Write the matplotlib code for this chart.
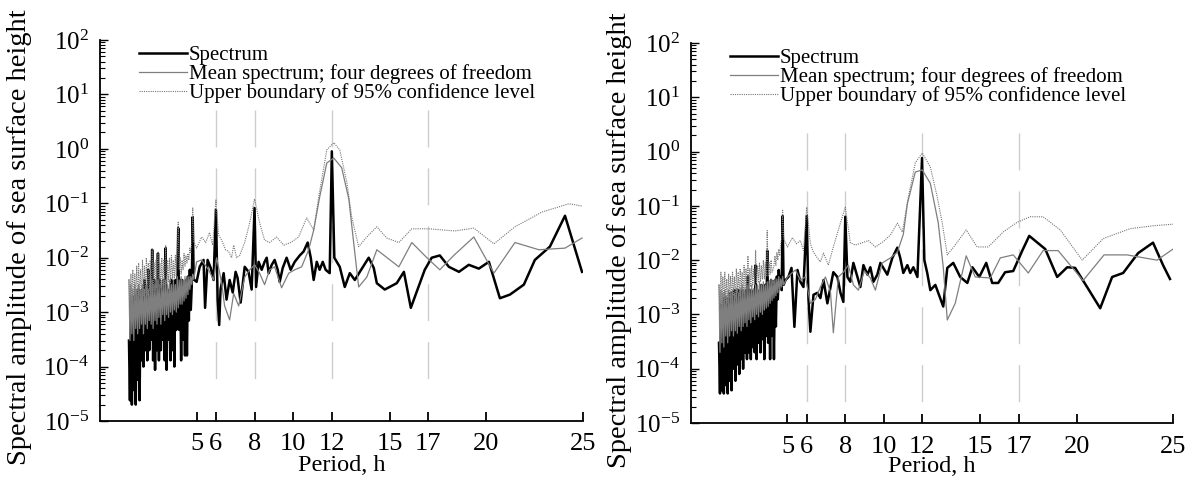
import matplotlib
matplotlib.use("Agg")
import matplotlib.pyplot as plt
from matplotlib.ticker import LogLocator, NullFormatter, FixedLocator

plt.rcParams['font.family'] = 'serif'
plt.rcParams['font.serif'] = ['Liberation Serif', 'DejaVu Serif']
plt.rcParams['mathtext.fontset'] = 'stix'

# ---------------- data (period in hours, amplitude) ----------------
period_ticks = [5, 6, 8, 10, 12, 15, 17, 20, 25]
decade_ticks = [1e-5, 1e-4, 1e-3, 1e-2, 1e-1, 1e0, 1e1, 1e2]
tidal_periods = [6, 8, 12, 17]

# dense short-period part, left panel
left_dense_p = [1.50, 1.55, 1.60, 1.65, 1.70, 1.75, 1.80, 1.85, 1.90, 1.95,
                2.00, 2.05, 2.10, 2.15, 2.20, 2.25, 2.30, 2.35, 2.40, 2.45,
                2.50, 2.55, 2.60, 2.65, 2.70, 2.75, 2.80, 2.85, 2.90, 2.95,
                3.00, 3.05, 3.10, 3.15, 3.20, 3.25, 3.30, 3.35, 3.40, 3.45,
                3.50, 3.55, 3.60, 3.65, 3.70, 3.75, 3.80, 3.85, 3.90, 3.95,
                4.00, 4.05, 4.10, 4.15, 4.20, 4.25, 4.30, 4.35, 4.40, 4.45,
                4.50, 4.55, 4.60, 4.65, 4.70, 4.75, 4.80, 4.85]
left_spec_dense = [3.0e-4, 2.4e-5, 1.5e-3, 2.0e-5, 1.1e-3, 3.7e-5, 2.0e-3, 2.0e-5, 1.3e-3, 5.7e-5,
                   2.6e-3, 2.4e-5, 1.7e-3, 1.3e-4, 2.6e-3, 1.0e-4, 3.9e-3, 2.0e-4, 1.7e-3, 1.3e-4,
                   6.0e-3, 2.0e-4, 2.6e-3, 3.1e-4, 1.4e-2, 1.3e-4, 3.9e-3, 8.7e-5, 2.6e-3, 2.0e-4,
                   1.2e-2, 1.3e-4, 3.9e-3, 2.0e-4, 2.6e-3, 3.1e-4, 3.9e-3, 1.3e-4, 1.5e-2, 8.7e-5,
                   2.6e-3, 3.1e-4, 1.7e-3, 1.3e-4, 3.9e-3, 2.0e-4, 2.6e-3, 1.0e-4, 3.9e-3, 4.7e-4,
                   2.6e-3, 3.5e-2, 4.7e-4, 3.9e-3, 1.3e-4, 3.9e-3, 3.1e-4, 2.6e-3, 1.6e-4, 3.9e-3,
                   1.6e-4, 4.5e-3, 7.0e-4, 6.0e-3, 1.1e-3, 3.0e-3, 5.6e-2, 4.0e-3]
left_mean_dense = [3.9e-3, 3.0e-4, 3.2e-3, 4.0e-4, 2.6e-3, 3.0e-4, 3.2e-3, 5.0e-4, 2.6e-3, 4.0e-4,
                   3.2e-3, 5.0e-4, 2.6e-3, 6.0e-4, 3.2e-3, 4.0e-4, 2.6e-3, 6.0e-4, 3.2e-3, 5.0e-4,
                   2.6e-3, 7.0e-4, 3.2e-3, 6.0e-4, 3.9e-3, 5.0e-4, 3.2e-3, 7.0e-4, 3.2e-3, 6.0e-4,
                   3.9e-3, 8.0e-4, 3.2e-3, 6.0e-4, 3.2e-3, 9.0e-4, 3.9e-3, 7.0e-4, 3.9e-3, 9.0e-4,
                   3.2e-3, 8.0e-4, 3.9e-3, 1.0e-3, 3.2e-3, 9.0e-4, 3.9e-3, 1.1e-3, 3.2e-3, 1.0e-3,
                   4.5e-3, 1.2e-3, 3.9e-3, 1.4e-3, 4.5e-3, 1.4e-3, 3.9e-3, 1.6e-3, 4.5e-3, 1.8e-3,
                   4.5e-3, 2.1e-3, 4.5e-3, 2.6e-3, 4.5e-3, 3.2e-3, 5.0e-3, 4.0e-3]
left_upper_dense = [4.0e-3, 1.2e-3, 5.0e-3, 1.5e-3, 6.0e-3, 1.5e-3, 5.0e-3, 1.8e-3, 7.0e-3, 1.5e-3,
                    8.0e-3, 2.0e-3, 6.0e-3, 1.8e-3, 9.0e-3, 2.0e-3, 7.0e-3, 2.2e-3, 1.0e-2, 2.0e-3,
                    8.0e-3, 2.5e-3, 9.0e-3, 2.2e-3, 1.4e-2, 2.5e-3, 8.0e-3, 2.5e-3, 9.0e-3, 2.8e-3,
                    1.3e-2, 3.0e-3, 8.0e-3, 2.8e-3, 1.0e-2, 3.0e-3, 9.0e-3, 3.2e-3, 1.7e-2, 3.2e-3,
                    9.0e-3, 3.5e-3, 1.0e-2, 3.5e-3, 1.1e-2, 4.0e-3, 9.0e-3, 4.0e-3, 1.1e-2, 4.5e-3,
                    1.2e-2, 4.5e-2, 6.0e-3, 1.0e-2, 5.0e-3, 9.0e-3, 6.0e-3, 1.2e-2, 7.0e-3, 1.1e-2,
                    8.0e-3, 1.2e-2, 9.0e-3, 1.5e-2, 1.2e-2, 2.0e-2, 8.2e-2, 2.0e-2]

# longer-period part, left panel
left_spec_p = [5.00, 5.16, 5.36, 5.44, 5.57, 5.73, 5.88, 6.00, 6.09, 6.17,
               6.24, 6.40, 6.55, 6.71, 6.87, 7.02, 7.12, 7.28, 7.49, 7.69,
               7.85, 8.00, 8.08, 8.21, 8.37, 8.52, 8.63, 8.73, 8.89, 9.04,
               9.20, 9.30, 9.46, 9.66, 9.87, 10.08, 10.34, 10.54, 10.75, 10.91,
               11.06, 11.22, 11.37, 11.53, 11.68, 11.89, 12.00, 12.13, 12.41, 12.67,
               12.93, 13.19, 13.45, 13.91, 14.17, 14.33, 14.74, 15.36, 15.73, 16.09,
               16.81, 17.17, 17.59, 18.06, 18.58, 19.09, 19.61, 20.13, 20.70, 21.22,
               21.94, 22.51, 23.29, 24.07, 24.95]
left_spec_a = [3.6e-3, 6.8e-3, 9.1e-3, 1.2e-3, 9.1e-3, 6.5e-3, 3.9e-3, 7.6e-2, 1.7e-3, 5.8e-4,
               2.6e-3, 5.2e-3, 1.7e-3, 3.9e-3, 2.3e-3, 5.5e-3, 4.3e-3, 1.5e-3, 6.8e-3, 5.5e-3,
               2.6e-3, 8.2e-2, 2.9e-3, 8.4e-3, 6.0e-3, 8.4e-3, 1.0e-2, 5.2e-3, 7.4e-3, 9.1e-3,
               6.0e-3, 3.6e-3, 6.5e-3, 1.0e-2, 6.0e-3, 8.4e-3, 1.1e-2, 1.3e-2, 1.9e-2, 1.0e-2,
               3.9e-3, 8.4e-3, 6.0e-3, 8.4e-3, 6.0e-3, 5.2e-3, 9.0e-1, 1.0e-2, 6.8e-3, 2.9e-3,
               5.2e-3, 3.9e-3, 5.5e-3, 1.0e-2, 6.5e-3, 3.4e-3, 2.6e-3, 3.4e-3, 5.5e-3, 1.2e-3,
               6.0e-3, 1.0e-2, 1.1e-2, 6.8e-3, 5.5e-3, 7.4e-3, 6.3e-3, 8.4e-3, 1.8e-3, 2.1e-3,
               3.2e-3, 9.1e-3, 1.6e-2, 5.9e-2, 5.5e-3]
left_mean_p = [5.00, 5.26, 5.62, 5.88, 6.04, 6.30, 6.45, 6.71, 6.92, 7.18,
               7.49, 7.75, 8.01, 8.26, 8.52, 8.78, 9.04, 9.40, 9.77, 10.08,
               10.44, 10.80, 11.06, 11.37, 11.74, 12.10, 12.51, 12.88, 13.13, 13.39,
               13.81, 14.33, 15.47, 16.14, 16.92, 17.59, 18.31, 19.35, 20.39, 21.48,
               22.72, 24.07, 24.95]
left_mean_a = [8.4e-3, 9.1e-3, 6.0e-3, 3.9e-3, 1.0e-2, 3.4e-3, 1.3e-3, 7.2e-4, 2.2e-3, 1.3e-3,
               4.4e-3, 6.0e-3, 7.4e-3, 5.2e-3, 3.2e-3, 6.0e-3, 6.8e-3, 2.8e-3, 5.2e-3, 6.0e-3,
               6.8e-3, 1.4e-2, 3.2e-2, 1.3e-1, 5.5e-1, 6.8e-1, 4.5e-1, 1.2e-1, 1.9e-2, 2.9e-3,
               4.4e-3, 1.4e-2, 6.8e-3, 1.9e-2, 1.0e-2, 6.0e-3, 1.1e-2, 2.4e-2, 5.2e-3, 1.9e-2,
               1.4e-2, 1.5e-2, 2.3e-2]
left_upper_p = [5.00, 5.26, 5.47, 5.67, 5.83, 6.00, 6.14, 6.30, 6.50, 6.66,
                6.81, 6.92, 7.07, 7.23, 7.49, 7.75, 8.00, 8.26, 8.52, 8.78,
                9.14, 9.51, 9.87, 10.28, 10.70, 11.06, 11.32, 11.74, 12.10, 12.41,
                12.78, 13.03, 13.39, 13.81, 14.33, 14.84, 15.47, 16.14, 17.02, 18.37,
                19.35, 20.39, 21.48, 22.88, 24.27, 24.95]
left_upper_a = [1.5e-2, 2.4e-2, 1.9e-2, 2.9e-2, 1.7e-2, 1.15e-1, 2.6e-2, 2.1e-2, 1.4e-2, 1.3e-2,
                1.0e-2, 1.7e-2, 1.0e-2, 1.1e-2, 1.9e-2, 4.4e-2, 1.2e-1, 4.4e-2, 2.1e-2, 1.9e-2,
                2.4e-2, 1.7e-2, 1.9e-2, 2.4e-2, 5.4e-2, 3.2e-2, 1.3e-1, 9.6e-1, 1.3, 9.6e-1,
                2.4e-1, 5.6e-2, 1.6e-2, 2.4e-2, 3.7e-2, 2.3e-2, 1.9e-2, 3.4e-2, 3.4e-2, 3.1e-2,
                3.5e-2, 1.8e-2, 3.7e-2, 6.9e-2, 9.8e-2, 8.9e-2]

# dense short-period part, right panel
right_dense_p = [1.45, 1.50, 1.55, 1.60, 1.65, 1.70, 1.75, 1.80, 1.85, 1.90,
                 1.95, 2.00, 2.05, 2.10, 2.15, 2.20, 2.25, 2.30, 2.35, 2.40,
                 2.45, 2.50, 2.55, 2.60, 2.65, 2.70, 2.75, 2.80, 2.85, 2.90,
                 2.95, 3.00, 3.05, 3.10, 3.15, 3.20, 3.25, 3.30, 3.35, 3.40,
                 3.45, 3.50, 3.55, 3.60, 3.65, 3.70, 3.75, 3.80, 3.85, 3.90,
                 3.95, 4.00, 4.05, 4.10, 4.15, 4.20, 4.25, 4.30, 4.35, 4.40,
                 4.45, 4.50, 4.55, 4.60, 4.65, 4.70, 4.75, 4.80]
right_spec_dense = [3.0e-4, 3.5e-5, 1.5e-3, 4.0e-5, 1.2e-3, 3.5e-5, 2.0e-3, 5.0e-5, 1.3e-3, 3.5e-5,
                    2.0e-3, 6.0e-5, 2.5e-3, 4.0e-5, 1.7e-3, 1.0e-4, 2.8e-3, 6.0e-5, 2.0e-3, 1.2e-4,
                    2.8e-3, 8.0e-5, 2.2e-3, 1.5e-4, 2.8e-3, 1.0e-4, 2.2e-3, 2.0e-4, 2.8e-3, 1.5e-4,
                    5.0e-3, 2.0e-4, 2.8e-3, 1.5e-4, 2.2e-3, 2.5e-4, 2.8e-3, 2.0e-4, 8.0e-3, 1.5e-4,
                    2.8e-3, 3.0e-4, 2.2e-3, 2.0e-4, 3.5e-3, 3.5e-4, 2.8e-3, 1.5e-4, 3.5e-3, 4.0e-4,
                    1.5e-2, 3.0e-4, 3.5e-3, 1.5e-4, 4.3e-3, 4.0e-4, 3.5e-3, 1.5e-4, 4.3e-3, 6.0e-4,
                    5.0e-3, 1.9e-3, 6.6e-3, 3.0e-3, 5.0e-3, 2.8e-3, 6.5e-2, 3.5e-3]
right_mean_dense = [3.5e-3, 2.0e-4, 2.8e-3, 3.0e-4, 2.5e-3, 2.5e-4, 2.8e-3, 4.0e-4, 2.2e-3, 3.0e-4,
                    2.8e-3, 4.0e-4, 2.5e-3, 5.0e-4, 2.8e-3, 4.0e-4, 2.5e-3, 5.0e-4, 3.0e-3, 4.5e-4,
                    2.5e-3, 6.0e-4, 3.0e-3, 5.0e-4, 3.5e-3, 6.0e-4, 3.0e-3, 7.0e-4, 3.0e-3, 6.0e-4,
                    3.5e-3, 8.0e-4, 3.0e-3, 7.0e-4, 3.5e-3, 9.0e-4, 3.0e-3, 8.0e-4, 3.5e-3, 1.0e-3,
                    3.5e-3, 9.0e-4, 4.0e-3, 1.1e-3, 3.5e-3, 1.0e-3, 4.0e-3, 1.2e-3, 3.5e-3, 1.3e-3,
                    4.0e-3, 1.4e-3, 4.0e-3, 1.6e-3, 4.5e-3, 1.8e-3, 4.0e-3, 2.0e-3, 4.5e-3, 2.2e-3,
                    4.5e-3, 2.5e-3, 5.0e-3, 2.8e-3, 4.5e-3, 3.2e-3, 5.0e-3, 3.5e-3]
right_upper_dense = [3.5e-3, 1.2e-3, 6.0e-3, 1.5e-3, 5.0e-3, 1.5e-3, 6.0e-3, 1.8e-3, 4.5e-3, 1.6e-3,
                     5.5e-3, 2.0e-3, 5.0e-3, 1.8e-3, 6.0e-3, 2.2e-3, 5.0e-3, 2.0e-3, 7.0e-3, 2.5e-3,
                     6.0e-3, 2.2e-3, 7.0e-3, 2.8e-3, 6.0e-3, 2.5e-3, 8.0e-3, 3.0e-3, 7.0e-3, 2.8e-3,
                     1.2e-2, 3.0e-3, 7.0e-3, 3.2e-3, 8.0e-3, 3.5e-3, 7.0e-3, 3.5e-3, 1.5e-2, 3.8e-3,
                     8.0e-3, 4.0e-3, 9.0e-3, 4.0e-3, 8.0e-3, 4.5e-3, 1.0e-2, 4.5e-3, 9.0e-3, 5.0e-3,
                     3.5e-2, 5.0e-3, 9.0e-3, 5.5e-3, 1.0e-2, 6.0e-3, 6.6e-3, 8.0e-3, 1.2e-2, 8.0e-3,
                     1.4e-2, 1.0e-2, 1.6e-2, 1.2e-2, 2.0e-2, 2.5e-2, 8.3e-2, 2.5e-2]

# longer-period part, right panel
right_spec_p = [4.90, 5.05, 5.21, 5.36, 5.52, 5.67, 5.83, 6.00, 6.09, 6.19,
                6.35, 6.55, 6.71, 6.87, 7.07, 7.23, 7.38, 7.59, 7.75, 7.90,
                8.00, 8.11, 8.26, 8.42, 8.63, 8.78, 8.94, 9.15, 9.30, 9.46,
                9.66, 9.82, 9.97, 10.18, 10.44, 10.70, 10.85, 11.01, 11.22, 11.37,
                11.53, 11.74, 11.98, 12.10, 12.25, 12.41, 12.67, 12.82, 13.08, 13.29,
                13.60, 13.96, 14.33, 14.59, 14.95, 15.31, 15.62, 15.93, 16.29, 16.71,
                17.18, 17.54, 18.37, 18.99, 19.51, 19.92, 20.54, 21.22, 21.84, 22.41,
                23.19, 23.96, 24.48, 24.84]
right_spec_a = [4.3e-3, 4.9e-3, 7.2e-3, 5.9e-4, 6.6e-3, 4.0e-3, 3.2e-3, 6.5e-2, 1.9e-3, 4.8e-4,
                2.3e-3, 2.5e-3, 2.0e-3, 4.3e-3, 1.6e-3, 3.2e-3, 6.0e-3, 4.9e-3, 2.5e-3, 1.7e-3,
                6.3e-2, 4.9e-3, 4.0e-3, 8.9e-3, 4.9e-3, 3.2e-3, 8.1e-3, 5.4e-3, 7.4e-3, 4.0e-3,
                5.4e-3, 8.9e-3, 7.2e-3, 5.4e-3, 1.1e-2, 1.7e-2, 1.1e-2, 5.8e-3, 8.1e-3, 5.8e-3,
                7.4e-3, 4.9e-3, 7.6e-1, 1.0e-2, 5.8e-3, 2.8e-3, 3.5e-3, 2.5e-3, 1.4e-3, 7.2e-3,
                8.9e-3, 4.9e-3, 3.8e-3, 7.4e-3, 4.9e-3, 8.9e-3, 3.8e-3, 3.8e-3, 6.0e-3, 6.3e-3,
                1.5e-2, 2.8e-2, 1.6e-2, 4.9e-3, 7.4e-3, 7.2e-3, 3.2e-3, 1.3e-3, 4.9e-3, 5.8e-3,
                1.35e-2, 2.1e-2, 8.1e-3, 4.5e-3]
right_mean_p = [5.00, 5.41, 5.67, 5.93, 6.19, 6.45, 6.71, 6.97, 7.23, 7.38,
                7.64, 7.90, 8.16, 8.42, 8.68, 8.99, 9.30, 9.56, 9.92, 10.34,
                10.70, 11.01, 11.22, 11.63, 11.99, 12.41, 12.82, 13.08, 13.29, 13.70,
                14.27, 14.74, 15.52, 16.04, 16.71, 17.49, 18.26, 19.04, 20.33, 21.42,
                22.61, 24.17, 25.00]
right_mean_a = [4.9e-3, 6.6e-3, 4.3e-3, 4.9e-3, 1.6e-3, 1.9e-3, 3.2e-3, 4.9e-3, 2.6e-3, 4.6e-4,
                4.9e-3, 6.0e-3, 8.1e-3, 3.5e-3, 2.8e-3, 6.3e-3, 4.7e-3, 2.8e-3, 8.9e-3, 1.1e-2,
                1.4e-2, 3.0e-2, 1.1e-1, 4.2e-1, 4.6e-1, 2.6e-1, 4.9e-2, 7.5e-3, 7.9e-4, 1.6e-3,
                1.2e-2, 4.9e-3, 4.7e-3, 1.1e-2, 1.25e-2, 5.8e-3, 1.5e-2, 1.5e-2, 4.2e-3, 1.25e-2,
                1.25e-2, 1.0e-2, 1.6e-2]
right_upper_p = [5.00, 5.26, 5.47, 5.67, 5.83, 6.00, 6.19, 6.35, 6.55, 6.71,
                 6.87, 7.12, 7.38, 7.64, 8.00, 8.26, 8.52, 8.89, 9.20, 9.56,
                 9.97, 10.34, 10.70, 10.96, 11.27, 11.63, 11.99, 12.41, 12.77, 13.03,
                 13.29, 13.70, 14.27, 14.84, 15.41, 16.19, 16.92, 17.59, 18.26, 19.15,
                 20.29, 21.38, 22.77, 23.96, 25.00]
right_upper_a = [1.75e-2, 2.6e-2, 2.0e-2, 2.3e-2, 1.5e-2, 9.5e-2, 2.0e-2, 1.4e-2, 1.1e-2, 9.3e-3,
                 1.35e-2, 8.1e-3, 1.75e-2, 3.6e-2, 9.5e-2, 2.1e-2, 1.9e-2, 2.1e-2, 2.3e-2, 1.75e-2,
                 2.2e-2, 2.9e-2, 4.8e-2, 3.3e-2, 1.45e-1, 6.2e-1, 9.4e-1, 5.2e-1, 1.45e-1, 4.8e-2,
                 1.25e-2, 1.9e-2, 3.6e-2, 1.75e-2, 1.75e-2, 3.3e-2, 5.0e-2, 6.3e-2, 6.3e-2, 3.6e-2,
                 1.0e-2, 2.5e-2, 3.8e-2, 4.3e-2, 4.6e-2]

labels = ['Spectrum',
          'Mean spectrum; four degrees of freedom',
          'Upper boundary of 95% confidence level']


def draw_panel(ax, spec_p, spec_a, mean_p, mean_a, up_p, up_a, guide_lo, guide_hi, ylab_x):
    for p in tidal_periods:
        ax.plot([p, p], [guide_hi, guide_lo], color='#cdcdcd', lw=1.0,
                dashes=(26.6, 15.1), zorder=1)
    ax.plot(spec_p, spec_a, color='black', lw=1.8, zorder=2, label=labels[0])
    ax.plot(mean_p, mean_a, color='#7f7f7f', lw=0.9, zorder=3, label=labels[1])
    ax.plot(up_p, up_a, color='#777777', lw=0.8, ls=(0, (1, 1)), zorder=4, label=labels[2])

    ax.set_yscale('log')
    ax.set_ylim(1e-5, 1e2)
    ax.set_xlim(0, 25)
    ax.set_xticks(period_ticks)
    ax.set_xticklabels([str(t) for t in period_ticks])
    ax.yaxis.set_major_locator(FixedLocator(decade_ticks))
    ax.yaxis.set_minor_locator(LogLocator(base=10, subs=range(2, 10), numticks=20))
    ax.yaxis.set_minor_formatter(NullFormatter())

    for s in ['top', 'right']:
        ax.spines[s].set_visible(False)
    for s in ['left', 'bottom']:
        ax.spines[s].set_linewidth(1.3)

    ax.tick_params(axis='x', direction='in', length=6.5, width=1.3, labelsize=19, pad=9)
    ax.tick_params(axis='y', which='major', direction='in', length=6, width=1.0,
                   labelsize=18, pad=8)
    ax.tick_params(axis='y', which='minor', direction='in', length=3.5, width=0.8)

    ax.set_ylabel('Spectral amplitude of sea surface height', fontsize=20.5)
    ax.yaxis.set_label_coords(ylab_x, 0.482)
    ax.set_xlabel('Period, h', fontsize=17.5)
    ax.xaxis.set_label_coords(0.5, -0.088)

    ax.legend(loc='upper left', bbox_to_anchor=(0.08, 0.985), frameon=False,
              fontsize=15, handlelength=2.3, handletextpad=0.1, labelspacing=-0.05,
              borderpad=0, borderaxespad=0)


fig = plt.figure(figsize=(11.89, 4.79), dpi=100)
ax_l = fig.add_axes([0.0841, 0.1211, 0.4062, 0.7954])
ax_r = fig.add_axes([0.5812, 0.1169, 0.4054, 0.7933])

draw_panel(ax_l, left_dense_p + left_spec_p, left_spec_dense + left_spec_a,
           left_dense_p + left_mean_p, left_mean_dense + left_mean_a,
           left_dense_p + left_upper_p, left_upper_dense + left_upper_a,
           5.2e-5, 5.2, -0.141)
draw_panel(ax_r, right_dense_p + right_spec_p, right_spec_dense + right_spec_a,
           right_dense_p + right_mean_p, right_mean_dense + right_mean_a,
           right_dense_p + right_upper_p, right_upper_dense + right_upper_a,
           2.4e-5, 2.2, -0.122)

fig.savefig('out.png', dpi=100)
